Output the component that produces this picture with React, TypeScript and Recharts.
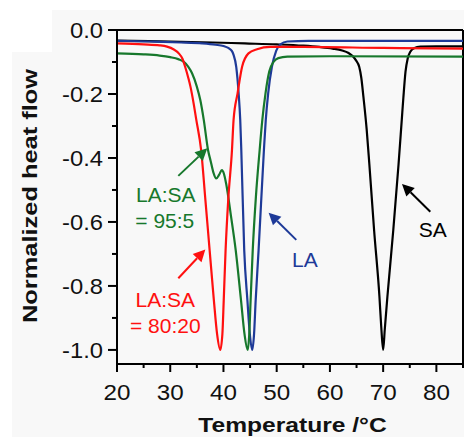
import { LineChart, Line, XAxis, YAxis, ReferenceLine, ReferenceDot } from "recharts";

// DSC traces, temperature (°C) vs normalized heat flow
const saCurve = [
  { t: 20, hf: -0.033 }, { t: 26, hf: -0.035 }, { t: 32, hf: -0.037 }, { t: 38, hf: -0.039 },
  { t: 44, hf: -0.042 }, { t: 50, hf: -0.045 }, { t: 55, hf: -0.049 }, { t: 58, hf: -0.053 },
  { t: 60.5, hf: -0.058 }, { t: 62.3, hf: -0.064 }, { t: 63.5, hf: -0.072 }, { t: 64.3, hf: -0.082 },
  { t: 64.9, hf: -0.095 }, { t: 65.5, hf: -0.115 }, { t: 65.9, hf: -0.15 }, { t: 66.3, hf: -0.21 },
  { t: 66.9, hf: -0.31 }, { t: 67.4, hf: -0.418 }, { t: 68.3, hf: -0.626 }, { t: 69.3, hf: -0.833 },
  { t: 69.65, hf: -0.93 }, { t: 70.0, hf: -1.0 }, { t: 70.3, hf: -0.937 }, { t: 70.8, hf: -0.833 },
  { t: 71.9, hf: -0.626 }, { t: 72.9, hf: -0.418 }, { t: 73.5, hf: -0.28 }, { t: 73.8, hf: -0.211 },
  { t: 74.2, hf: -0.13 }, { t: 74.6, hf: -0.09 }, { t: 75.1, hf: -0.068 }, { t: 75.8, hf: -0.057 },
  { t: 77, hf: -0.052 }, { t: 80, hf: -0.051 }, { t: 85, hf: -0.051 },
];

const laCurve = [
  { t: 20, hf: -0.034 }, { t: 26, hf: -0.036 }, { t: 32, hf: -0.039 }, { t: 36, hf: -0.042 },
  { t: 38.5, hf: -0.046 }, { t: 40, hf: -0.05 }, { t: 40.9, hf: -0.056 }, { t: 41.6, hf: -0.066 },
  { t: 41.9, hf: -0.078 }, { t: 42.4, hf: -0.115 }, { t: 42.85, hf: -0.198 }, { t: 43.15, hf: -0.281 },
  { t: 43.35, hf: -0.375 }, { t: 43.9, hf: -0.688 }, { t: 44.5, hf: -0.845 }, { t: 44.95, hf: -0.95 },
  { t: 45.4, hf: -1.0 }, { t: 45.75, hf: -0.95 }, { t: 46.05, hf: -0.845 }, { t: 46.6, hf: -0.688 },
  { t: 47.6, hf: -0.375 }, { t: 47.95, hf: -0.281 }, { t: 48.4, hf: -0.198 }, { t: 49.1, hf: -0.115 },
  { t: 49.9, hf: -0.065 }, { t: 50.7, hf: -0.045 }, { t: 52, hf: -0.036 }, { t: 56, hf: -0.034 },
  { t: 85, hf: -0.034 },
];

// LA:SA = 95:5
const blend95Curve = [
  { t: 20, hf: -0.073 }, { t: 25, hf: -0.076 }, { t: 28, hf: -0.08 }, { t: 30, hf: -0.085 },
  { t: 31.5, hf: -0.091 }, { t: 32.5, hf: -0.099 }, { t: 33.4, hf: -0.115 }, { t: 34.1, hf: -0.135 },
  { t: 35.0, hf: -0.177 }, { t: 35.65, hf: -0.219 }, { t: 36.3, hf: -0.281 }, { t: 37.1, hf: -0.375 },
  { t: 37.6, hf: -0.41 }, { t: 38.1, hf: -0.445 }, { t: 38.65, hf: -0.464 }, { t: 39.2, hf: -0.452 },
  { t: 39.7, hf: -0.438 }, { t: 40.1, hf: -0.45 }, { t: 40.5, hf: -0.48 }, { t: 41.4, hf: -0.58 },
  { t: 42.3, hf: -0.688 }, { t: 43.3, hf: -0.845 }, { t: 43.95, hf: -0.95 }, { t: 44.55, hf: -1.0 },
  { t: 44.85, hf: -0.95 }, { t: 45.1, hf: -0.845 }, { t: 45.5, hf: -0.688 }, { t: 46.1, hf: -0.52 },
  { t: 46.8, hf: -0.375 }, { t: 47.3, hf: -0.281 }, { t: 47.9, hf: -0.198 }, { t: 48.6, hf: -0.13 },
  { t: 49.4, hf: -0.1 }, { t: 50.3, hf: -0.088 }, { t: 52, hf: -0.083 }, { t: 60, hf: -0.082 },
  { t: 85, hf: -0.083 },
];

// LA:SA = 80:20
const blend80Curve = [
  { t: 20, hf: -0.042 }, { t: 25, hf: -0.045 }, { t: 28, hf: -0.048 }, { t: 29.4, hf: -0.052 },
  { t: 30.6, hf: -0.06 }, { t: 31.6, hf: -0.073 }, { t: 32.3, hf: -0.09 }, { t: 32.8, hf: -0.115 },
  { t: 33.4, hf: -0.15 }, { t: 33.8, hf: -0.177 }, { t: 34.4, hf: -0.23 }, { t: 34.9, hf: -0.281 },
  { t: 35.8, hf: -0.375 }, { t: 36.6, hf: -0.53 }, { t: 37.4, hf: -0.688 }, { t: 38.2, hf: -0.845 },
  { t: 38.8, hf: -0.95 }, { t: 39.4, hf: -1.0 }, { t: 39.8, hf: -0.95 }, { t: 40.05, hf: -0.845 },
  { t: 40.4, hf: -0.688 }, { t: 40.9, hf: -0.53 }, { t: 41.6, hf: -0.375 }, { t: 41.9, hf: -0.281 },
  { t: 42.65, hf: -0.198 }, { t: 43.5, hf: -0.115 }, { t: 44.7, hf: -0.073 }, { t: 46.3, hf: -0.06 },
  { t: 48.8, hf: -0.053 }, { t: 55, hf: -0.053 }, { t: 70, hf: -0.056 }, { t: 85, hf: -0.058 },
];

const xMajorTicks = [20, 30, 40, 50, 60, 70, 80];
const xMinorTicks = [25, 35, 45, 55, 65, 75, 85];
const yMajorTicks = [0, -0.2, -0.4, -0.6, -0.8, -1.0];
const yMinorTicks = [-0.1, -0.3, -0.5, -0.7, -0.9];

const RED = "#ff1010";
const GREEN = "#17782c";
const BLUE = "#1e3a98";
const BLACK = "#000000";

// annotation text (baseline position in data units)
const labels = [
  { text: "LA:SA", t: 29.17, hf: -0.537, color: GREEN },
  { text: "= 95:5", t: 28.98, hf: -0.62, color: GREEN },
  { text: "LA:SA", t: 29.07, hf: -0.865, color: RED },
  { text: "= 80:20", t: 29.07, hf: -0.948, color: RED },
  { text: "LA", t: 55.28, hf: -0.742, color: BLUE },
  { text: "SA", t: 79.33, hf: -0.646, color: BLACK },
];

// arrows: tail -> head
const arrows = [
  { from: [31.52, -0.456], to: [36.97, -0.37], color: GREEN },
  { from: [31.52, -0.776], to: [36.59, -0.686], color: RED },
  { from: [53.68, -0.656], to: [48.48, -0.571], color: BLUE },
  { from: [78.86, -0.568], to: [73.54, -0.481], color: BLACK },
];

const FONT = "Arial, 'Liberation Sans', Helvetica, sans-serif";

function XTick(props: any) {
  const { x, y, payload } = props;
  const major = xMajorTicks.includes(payload.value);
  return (
    <g>
      <line x1={x} x2={x} y1={y} y2={y + (major ? 8 : 4)} stroke="#000" strokeWidth={2} />
      {major && (
        <text
          transform={`translate(${x},${y + 36}) scale(1.1,1)`}
          textAnchor="middle"
          fontSize={22}
          fontFamily={FONT}
          fill="#111"
        >
          {payload.value}
        </text>
      )}
    </g>
  );
}

function YTick(props: any) {
  const { x, y, payload } = props;
  const major = yMajorTicks.some((v) => Math.abs(v - payload.value) < 1e-6);
  return (
    <g>
      <line x1={x - (major ? 9 : 5)} x2={x} y1={y} y2={y} stroke="#000" strokeWidth={2} />
      {major && (
        <text
          transform={`translate(${x - 14},${y + 8}) scale(1.08,1)`}
          textAnchor="end"
          fontSize={22}
          fontFamily={FONT}
          fill="#111"
        >
          {payload.value.toFixed(1)}
        </text>
      )}
    </g>
  );
}

const arrowShape = (color: string) => (props: any) => {
  const { x1, y1, x2, y2 } = props;
  const a = Math.atan2(y2 - y1, x2 - x1);
  const len = 12;
  const half = 6;
  const bx = x2 - len * Math.cos(a);
  const by = y2 - len * Math.sin(a);
  const pts = [
    `${x2},${y2}`,
    `${bx + half * Math.sin(a)},${by - half * Math.cos(a)}`,
    `${bx - half * Math.sin(a)},${by + half * Math.cos(a)}`,
  ].join(" ");
  return (
    <g>
      <line x1={x1} y1={y1} x2={bx} y2={by} stroke={color} strokeWidth={2} />
      <polygon points={pts} fill={color} />
    </g>
  );
};

const textShape = (text: string, color: string) => (props: any) => (
  <text
    x={props.cx}
    y={props.cy}
    textAnchor="middle"
    fontSize={21}
    fontFamily={FONT}
    fill={color}
  >
    {text}
  </text>
);

export default function App() {
  return (
    <div style={{ position: "absolute", left: 0, top: 0, width: 464, height: 437, background: "#fff" }}>
      <div style={{ position: "absolute", left: 52, top: 10, right: 0, bottom: 0, background: "#f8f8f8" }} />
      <div style={{ position: "absolute", left: 12, top: 52, right: 0, bottom: 0, background: "#f8f8f8" }} />
      <div style={{ position: "absolute", left: 0, top: 0 }}>
        <LineChart width={464} height={437} margin={{ top: 30, right: 1, bottom: 0, left: 0 }}>
          <XAxis
            type="number"
            dataKey="t"
            domain={[20, 85]}
            ticks={[...xMajorTicks, ...xMinorTicks].sort((a, b) => a - b)}
            allowDataOverflow
            height={73}
            tickSize={0}
            tickMargin={0}
            tick={<XTick />}
            axisLine={{ stroke: "#000", strokeWidth: 2 }}
            interval={0}
          />
          <YAxis
            type="number"
            dataKey="hf"
            domain={[-1.044, 0]}
            ticks={[...yMajorTicks, ...yMinorTicks].sort((a, b) => a - b)}
            allowDataOverflow
            width={117}
            tickSize={0}
            tickMargin={0}
            tick={<YTick />}
            axisLine={{ stroke: "#000", strokeWidth: 2 }}
            interval={0}
          />
          <ReferenceLine y={0} stroke="#000" strokeWidth={2} />
          <ReferenceLine x={85} stroke="#000" strokeWidth={2} />
          <Line data={saCurve} dataKey="hf" type="monotone" stroke={BLACK} strokeWidth={2.2} dot={false} isAnimationActive={false} />
          <Line data={laCurve} dataKey="hf" type="monotone" stroke={BLUE} strokeWidth={2.2} dot={false} isAnimationActive={false} />
          <Line data={blend95Curve} dataKey="hf" type="monotone" stroke={GREEN} strokeWidth={2.2} dot={false} isAnimationActive={false} />
          <Line data={blend80Curve} dataKey="hf" type="monotone" stroke={RED} strokeWidth={2.2} dot={false} isAnimationActive={false} />
          {arrows.map((a, i) => (
            <ReferenceLine
              key={`arr${i}`}
              segment={[{ x: a.from[0], y: a.from[1] }, { x: a.to[0], y: a.to[1] }]}
              shape={arrowShape(a.color)}
            />
          ))}
          {labels.map((l, i) => (
            <ReferenceDot key={`lab${i}`} x={l.t} y={l.hf} shape={textShape(l.text, l.color)} />
          ))}
          <text
            transform="translate(36.7,196) rotate(-90) scale(1.21,1)"
            textAnchor="middle"
            fontSize={21}
            fontWeight="bold"
            fontFamily={FONT}
            fill="#111"
          >
            Normalized heat flow
          </text>
          <text
            transform="translate(292.5,431.5) scale(1.23,1)"
            textAnchor="middle"
            fontSize={20}
            fontWeight="bold"
            fontFamily={FONT}
            fill="#111"
          >
            Temperature /°C
          </text>
        </LineChart>
      </div>
    </div>
  );
}
